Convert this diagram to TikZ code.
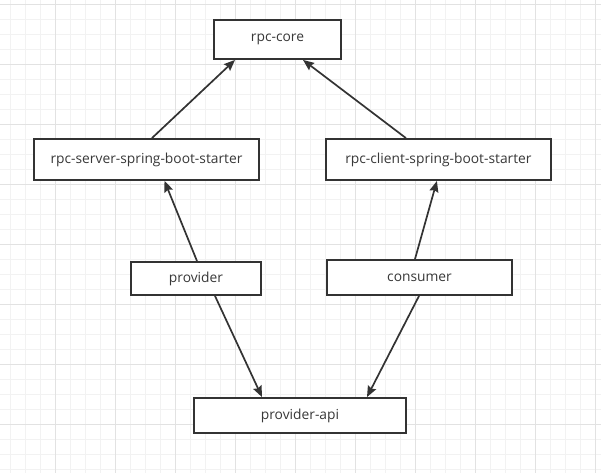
\documentclass[tikz,border=0pt]{standalone}
\usepackage{fontspec}
\setmainfont{Open Sans}
\usepackage{tikz}
\usetikzlibrary{positioning}
\usetikzlibrary{arrows.meta}
\usetikzlibrary{calc}
\definecolor{boxline}{RGB}{51,51,51}
\definecolor{gridminor}{RGB}{242,242,242}
\definecolor{gridmajor}{RGB}{226,226,226}
\tikzset{
    modbox/.style={rectangle,draw=boxline,line width=1.9pt,fill=white,text=black!78,inner sep=0pt,font=\fontsize{13.8}{16}\selectfont},
    dep/.style={-{Stealth[length=11pt,width=9pt,inset=1.5pt]},line width=1.7pt,draw=boxline}
}
\begin{document}
\begin{tikzpicture}
    [x=1pt,y=-1pt]
    \useasboundingbox (0,0) rectangle (601,473);
    \fill[white] (0,0) rectangle (601,473);
    \foreach \x in {10.5,25.5,...,600} \draw[gridminor,line width=0.8pt] (\x,0) -- (\x,473);
    \foreach \y in {4.5,19.5,...,473} \draw[gridminor,line width=0.8pt] (0,\y) -- (601,\y);
    \foreach \x in {55.5,115.5,...,600} \draw[gridmajor,line width=0.8pt] (\x,0) -- (\x,473);
    \foreach \y in {4.5,64.5,...,473} \draw[gridmajor,line width=0.8pt] (0,\y) -- (601,\y);
    \node [modbox,minimum width=127pt,minimum height=39pt] (core) at (277.5,39.5) {rpc-core};
    \node [modbox,minimum width=225pt,minimum height=41pt] (server) at (146.5,159.5) {rpc-server-spring-boot-starter};
    \node [modbox,minimum width=225pt,minimum height=41pt,right=65pt of server] (client) {rpc-client-spring-boot-starter};
    \node [modbox,minimum width=130pt,minimum height=33pt] (provider) at (196,278.5) {provider};
    \node [modbox,minimum width=185pt,minimum height=35pt] (consumer) at (419.5,277.5) {consumer};
    \node [modbox,minimum width=212pt,minimum height=35pt] (api) at (300,415.5) {provider-api};
    \draw[dep] ([xshift=5.5pt]server.north) -- ([xshift=-42.5pt]core.south);
    \draw[dep] ([xshift=-32.5pt]client.north) -- ([xshift=25.5pt]core.south);
    \draw[dep] ([xshift=1pt]provider.north) -- ([xshift=18pt]server.south);
    \draw[dep] ([xshift=-4.5pt]consumer.north) -- ([xshift=-1.5pt]client.south);
    \draw[dep] ([xshift=19pt]provider.south) -- ([xshift=-38pt]api.north);
    \draw[dep] ([xshift=-0.5pt]consumer.south) -- ([xshift=67pt]api.north);
\end{tikzpicture}
\end{document}
